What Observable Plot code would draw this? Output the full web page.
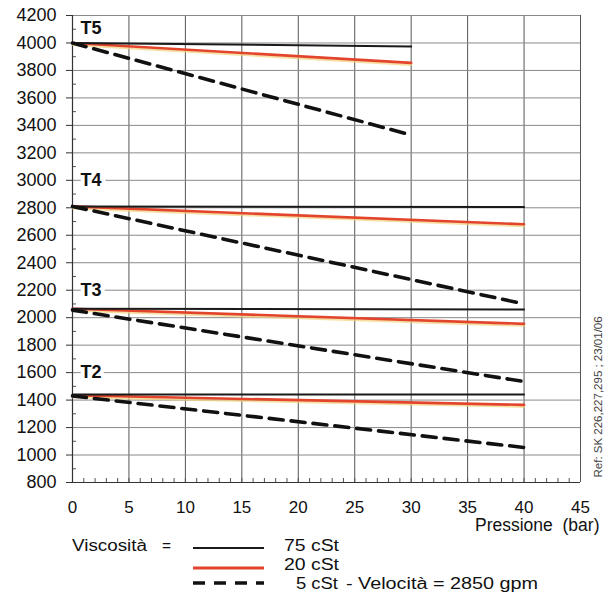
<!DOCTYPE html>
<html><head><meta charset="utf-8">
<script src="https://cdn.jsdelivr.net/npm/d3@7"></script>
<script src="https://cdn.jsdelivr.net/npm/@observablehq/plot@0.6"></script>
<style>
body{margin:0;background:#fff;font-family:"Liberation Sans",Arial,sans-serif;}
#chart svg{display:block;}
</style>
</head><body><div id="chart"></div>
<script>
// ---- data ----
const groups = ["T5", "T4", "T3", "T2"];
const pressureStart = [0, 0, 0, 0];
const pressureEnd = [30, 40, 40, 40];
const start75 = [4000, 2810, 2065, 1440];
const end75   = [3975, 2805, 2060, 1440];
const start20 = [4000, 2810, 2065, 1435];
const end20   = [3855, 2680, 1955, 1365];
const start5  = [4000, 2810, 2055, 1430];
const end5    = [3330, 2100, 1535, 1055];
const labelX = [0.7, 0.7, 0.7, 0.7];
const labelY = [4110, 3000, 2200, 1600];
const xTicks = [0, 5, 10, 15, 20, 25, 30, 35, 40, 45];
const yTicks = d3.range(800, 4201, 200);
const xMinor = d3.range(0, 46, 1);
const yMinor = d3.range(900, 4200, 200);
const viscosities = ["75 cSt", "20 cSt", "5 cSt"];
const xLabel = "Pressione\u00a0 (bar)";
const refText = "Ref: SK 226,227,295 ; 23/01/06";
const legendTitle = "Viscosità";
const legendExtra = "- Velocità = 2850 gpm";

// ---- build rows ----
const rows = [];
groups.forEach((g, i) => {
  const s = {"75 cSt": start75[i], "20 cSt": start20[i], "5 cSt": start5[i]};
  const e = {"75 cSt": end75[i], "20 cSt": end20[i], "5 cSt": end5[i]};
  viscosities.forEach(v => {
    rows.push({g, visc: v, key: g + v, p: pressureStart[i], val: s[v]});
    rows.push({g, visc: v, key: g + v, p: pressureEnd[i], val: e[v]});
  });
});
const labels = groups.map((g, i) => ({g, x: labelX[i], y: labelY[i]}));

const chart = Plot.plot({
  width: 611, height: 535,
  marginLeft: 72, marginRight: 31, marginTop: 15, marginBottom: 53,
  x: {domain: [0, 45]},
  y: {domain: [800, 4200]},
  style: {fontFamily: "'Liberation Sans', Arial, sans-serif", fontSize: "17px", color: "#111", background: "#fff"},
  marks: [
    Plot.gridX(xTicks, {stroke: "#555", strokeOpacity: 1}),
    Plot.gridY(yTicks, {stroke: "#8a8a8a", strokeOpacity: 1}),
    Plot.axisX(xMinor, {anchor: "bottom", tickSize: -4, tickFormat: () => "", label: null, stroke: "#555"}),
    Plot.axisY(yMinor, {anchor: "left", tickSize: -4, tickFormat: () => "", label: null, stroke: "#555"}),
    Plot.axisY(yTicks, {anchor: "left", tickSize: 6, tickFormat: () => "", label: null, stroke: "#333"}),
    // tick labels
    Plot.text(yTicks, {y: d => d, text: d => String(d), frameAnchor: "left", textAnchor: "end", dx: -16, fontSize: 18, fill: "#111"}),
    Plot.text(xTicks, {x: d => d, text: d => String(d), frameAnchor: "bottom", lineAnchor: "middle", dy: 25, fontSize: 17, fill: "#111"}),
    Plot.ruleX([0], {stroke: "#333", strokeWidth: 1.2}),
    Plot.ruleY([800], {stroke: "#333", strokeWidth: 1.2}),
    Plot.text(labels, {x: "x", y: "y", text: "g", textAnchor: "start", fontWeight: "bold", fontSize: 18,
      fill: "#111", stroke: "white", strokeWidth: 8}),
    // 20 cSt (red with slight yellow glow)
    Plot.line(rows.filter(d => d.visc === "20 cSt"), {x: "p", y: "val", z: "key", stroke: "#f2d27a", strokeWidth: 2, dy: 2, strokeOpacity: 0.7}),
    Plot.line(rows.filter(d => d.visc === "20 cSt"), {x: "p", y: "val", z: "key", stroke: "#e2452c", strokeWidth: 2.6}),
    // 75 cSt
    Plot.line(rows.filter(d => d.visc === "75 cSt"), {x: "p", y: "val", z: "key", stroke: "#1a1a1a", strokeWidth: 2}),
    // 5 cSt dashed
    Plot.line(rows.filter(d => d.visc === "5 cSt"), {x: "p", y: "val", z: "key", stroke: "#111", strokeWidth: 3.6, strokeDasharray: "14,8"}),
    Plot.text([xLabel], {frameAnchor: "bottom-right", textAnchor: "end", lineAnchor: "middle", dx: 19, dy: 43, fontSize: 17.5, fill: "#111"}),
    Plot.text([refText], {frameAnchor: "bottom-right", textAnchor: "start", lineAnchor: "middle", rotate: -90, dx: 18, dy: -5, fontSize: 11.5, fill: "#444"})
  ]
});
document.getElementById("chart").appendChild(chart);

// ---- legend below the chart ----
const leg = d3.select("#chart").append("svg").attr("width", 611).attr("height", 59)
  .style("font-family", "'Liberation Sans', Arial, sans-serif").style("font-size", "16px");
function legText(x, y, t, len) {
  leg.append("text").attr("x", x).attr("y", y).attr("fill", "#111")
    .attr("textLength", len).attr("lengthAdjust", "spacingAndGlyphs").text(t);
}
legText(72, 15.5, legendTitle, 75);
legText(162, 15.5, "=", 9);
const legStyles = [
  {stroke: "#1a1a1a", w: 2, dash: null, y: 13, tx: 284, ty: 15.5, len: 55},
  {stroke: "#e2452c", w: 3, dash: null, y: 33, tx: 284, ty: 34.5, len: 55},
  {stroke: "#111", w: 3.6, dash: "12,9", y: 48, tx: 296, ty: 53.5, len: 42}
];
viscosities.forEach((v, i) => {
  const s = legStyles[i];
  leg.append("line").attr("x1", 193).attr("x2", 264).attr("y1", s.y).attr("y2", s.y)
    .attr("stroke", s.stroke).attr("stroke-width", s.w).attr("stroke-dasharray", s.dash);
  legText(s.tx, s.ty, v, s.len);
});
legText(346, 53.5, legendExtra, 192);
</script>
</body></html>
